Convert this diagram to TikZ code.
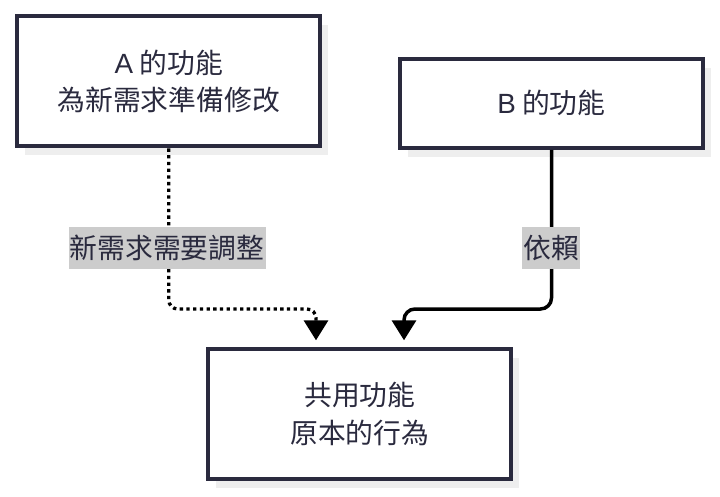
\documentclass[tikz,border=0pt]{standalone}
\usepackage{fontspec}
\setmainfont{Noto Sans CJK TC}
\newfontfamily\lat{Liberation Sans}
\usetikzlibrary{shadows,arrows.meta,calc}
\definecolor{ink}{RGB}{42,42,62}
\definecolor{shadowgray}{RGB}{238,238,238}
\definecolor{lblgray}{RGB}{204,204,204}
\tikzset{
  box/.style={draw=ink, line width=4pt, fill=white, text=ink,
    minimum width=303pt, inner sep=0pt, align=center,
    font=\fontsize{27.8}{37.5}\selectfont,
    general shadow={fill=shadowgray, draw=none, shadow xshift=8pt, shadow yshift=-9pt}},
  lbl/.style={fill=lblgray, text=ink, inner xsep=1.2pt, inner ysep=0pt,
    minimum height=42pt, font=\fontsize{27.8}{30}\selectfont},
  dotedge/.style={draw=black, line width=3.3pt, dash pattern=on 3.3pt off 3.4pt,
    rounded corners=9pt, -{Triangle[width=24pt,length=20pt]}, shorten >=7pt},
  solidedge/.style={draw=black, line width=3.5pt,
    rounded corners=11pt, -{Triangle[width=24pt,length=20pt]}, shorten >=7pt},
}
\begin{document}
\begin{tikzpicture}[x=1pt,y=-1pt]
\useasboundingbox[fill=white] (0,0) rectangle (720,497);
\node[box, minimum height=130.5pt] (A) at (168.75,81.25) {{\lat A} 的功能\\為新需求準備修改};
\node[box, minimum height=89.3pt] (B) at (551.5,103.35) {{\lat B} 的功能};
\node[box, minimum height=129.7pt] (C) at (359.85,414.15) {共用功能\\原本的行為};
\coordinate (bend1) at (316,309);
\coordinate (bend2) at (404,309);
\draw[dotedge] (A.south) |- (bend1) -- (C.north -| bend1);
\draw[solidedge] (B.south) |- (bend2) -- (C.north -| bend2);
\node[lbl] (l1) at (167,248) {新需求需要調整};
\node[lbl] (l2) at (551,248) {依賴};
\end{tikzpicture}
\end{document}
